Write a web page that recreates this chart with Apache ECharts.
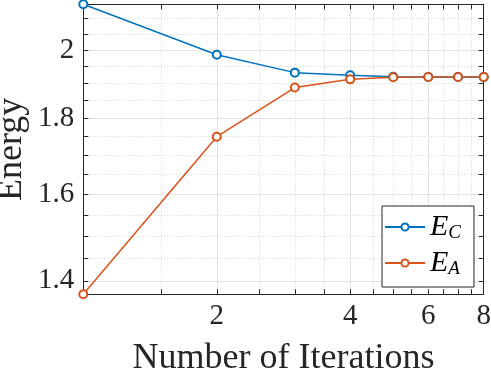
<!DOCTYPE html>
<html>
<head>
<meta charset="utf-8">
<script src="https://cdn.jsdelivr.net/npm/echarts@6/dist/echarts.min.js"></script>
<style>
  html, body { margin: 0; padding: 0; background: #fff; }
  #chart { width: 491px; height: 378px; }
</style>
</head>
<body>
<div id="chart"></div>
<script>
// iterations and the two energy curves
const iterations = [1, 2, 3, 4, 5, 6, 7, 8];
const energyC = [2.146, 1.985, 1.931, 1.923, 1.919, 1.918, 1.918, 1.918];
const energyA = [1.371, 1.749, 1.887, 1.911, 1.917, 1.918, 1.918, 1.918];

// ticks (log axes)
const xMajor = [2, 4, 6, 8];
const xMinor = [1.5, 2.5, 3, 3.5, 4.5, 5, 5.5, 6.5, 7, 7.5];
const yMajor = [1.4, 1.6, 1.8, 2];
const yMinor = [1.45, 1.5, 1.55, 1.65, 1.7, 1.75, 1.85, 1.9, 1.95, 2.05, 2.1];
const xRange = [1, 8];
const yRange = [1.371, 2.146];

const AXIS_COLOR = '#262626';
const FONT = 'Liberation Serif';
const fmt = v => String(Math.round(v * 100) / 100);

const boxLine = { show: true, onZero: false, lineStyle: { color: AXIS_COLOR, width: 1 } };
const majorGrid = { show: true, lineStyle: { color: '#e2e2e2', width: 1 } };
const minorGrid = { show: true, lineStyle: { color: '#d4d4d4', width: 1, type: [1, 2] } };

const logX = (extra) => Object.assign({
  type: 'log', logBase: 2, min: xRange[0], max: xRange[1], gridIndex: 0,
  axisLine: { show: false }, axisLabel: { show: false }, splitLine: { show: false },
}, extra);
const logY = (extra) => Object.assign({
  type: 'log', logBase: 10, min: yRange[0], max: yRange[1], gridIndex: 0,
  axisLine: { show: false }, axisLabel: { show: false }, splitLine: { show: false },
}, extra);

const tick = (vals) => ({ show: true, inside: true, length: 5, customValues: vals, lineStyle: { color: AXIS_COLOR, width: 1 } });

const chart = echarts.init(document.getElementById('chart'));
chart.setOption({
  animation: false,
  backgroundColor: '#fff',
  textStyle: { fontFamily: FONT },
  grid: { left: 83.3, right: 7.3, top: 4.3, bottom: 83.7, containLabel: false, outerBoundsMode: 'none' },
  legend: {
    orient: 'vertical',
    left: 382, top: 206,
    padding: [6, 13, 6, 2],
    itemGap: 3,
    itemWidth: 40, itemHeight: 9,
    backgroundColor: '#fff',
    borderColor: AXIS_COLOR, borderWidth: 1,
    data: ['E_C', 'E_A'],
    formatter: name => '{e|E}{s|' + name.split('_')[1] + '}',
    textStyle: {
      rich: {
        e: { fontFamily: FONT, fontStyle: 'italic', fontSize: 30, lineHeight: 30, color: '#000', verticalAlign: 'top', padding: [0, 0, 3, 0] },
        s: { fontFamily: FONT, fontStyle: 'italic', fontSize: 19, lineHeight: 19, color: '#000', verticalAlign: 'bottom' },
      },
    },
  },
  xAxis: [
    logX({
      position: 'bottom',
      axisLine: boxLine,
      axisTick: tick(xMajor),
      axisLabel: { show: true, customValues: xMajor, formatter: fmt, fontFamily: FONT, fontSize: 29, color: AXIS_COLOR, margin: 8 },
      splitLine: majorGrid,
      name: 'Number of Iterations',
      nameLocation: 'middle',
      nameGap: 46,
      nameMoveOverlap: false,
      nameTextStyle: { fontFamily: FONT, fontSize: 36, color: AXIS_COLOR },
    }),
    logX({ position: 'bottom', axisTick: tick(xMinor), splitLine: minorGrid }),
    logX({ position: 'top', axisLine: boxLine, axisTick: tick(xMajor.concat(xMinor)) }),
  ],
  yAxis: [
    logY({
      position: 'left',
      axisLine: boxLine,
      axisTick: tick(yMajor),
      axisLabel: { show: true, customValues: yMajor, formatter: fmt, fontFamily: FONT, fontSize: 29, color: AXIS_COLOR, margin: 9 },
      splitLine: majorGrid,
      name: 'Energy',
      nameLocation: 'middle',
      nameGap: 54,
      nameMoveOverlap: false,
      nameTextStyle: { fontFamily: FONT, fontSize: 36, color: AXIS_COLOR },
    }),
    logY({ position: 'left', axisTick: tick(yMinor), splitLine: minorGrid }),
    logY({ position: 'right', axisLine: boxLine, axisTick: tick(yMajor.concat(yMinor)) }),
  ],
  series: [
    {
      name: 'E_C', type: 'line', xAxisIndex: 0, yAxisIndex: 0,
      data: iterations.map((x, i) => [x, energyC[i]]),
      symbol: 'emptyCircle', symbolSize: 8, showAllSymbol: true, clip: false,
      color: '#0072BD',
      lineStyle: { width: 1.5 },
      itemStyle: { borderWidth: 1.5 },
    },
    {
      name: 'E_A', type: 'line', xAxisIndex: 0, yAxisIndex: 0,
      data: iterations.map((x, i) => [x, energyA[i]]),
      symbol: 'emptyCircle', symbolSize: 8, showAllSymbol: true, clip: false,
      color: '#D95319',
      lineStyle: { width: 1.5 },
      itemStyle: { borderWidth: 1.5 },
    },
  ],
});
</script>
</body>
</html>
